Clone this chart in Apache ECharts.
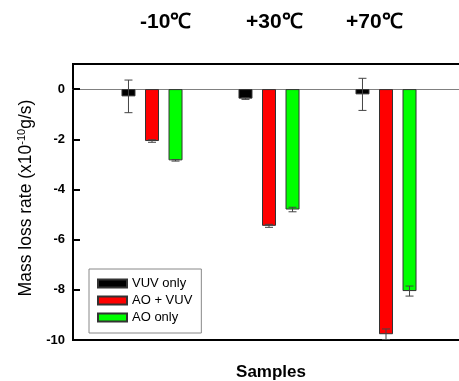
<!DOCTYPE html>
<html>
<head>
<meta charset="utf-8">
<script src="https://cdn.jsdelivr.net/npm/echarts@6/dist/echarts.min.js"></script>
<style>html,body{margin:0;padding:0;background:#fff;}#c{width:459px;height:381px;}</style>
</head>
<body>
<div id="c"></div>
<script>
const categories = ['-10℃', '+30℃', '+70℃'];
const seriesNames = ['VUV only', 'AO + VUV', 'AO only'];
const vuvOnly = [-0.29, -0.38, -0.21];
const aoVuv = [-2.07, -5.45, -9.77];
const aoOnly = [-2.84, -4.8, -8.05];
const vuvErr = [0.65, 0.03, 0.64];
const aoVuvErr = [0.05, 0.06, 0.21];
const aoOnlyErr = [0.03, 0.09, 0.2];
const yTicks = [-10, -8, -6, -4, -2, 0];

const colors = ['#000000', '#ff0000', '#00ff00'];
const BAR_W = 14, BAR_GAP = 0.68;
const values = [vuvOnly, aoVuv, aoOnly];
const errs = [vuvErr, aoVuvErr, aoOnlyErr];

const chart = echarts.init(document.getElementById('c'));
const font = 'Liberation Sans, Arial, sans-serif';

const barSeries = values.map((v, i) => ({
  name: seriesNames[i], type: 'bar', xAxisIndex: 2, yAxisIndex: 1,
  data: v, barWidth: BAR_W, barGap: (BAR_GAP * 100) + '%',
  itemStyle: { color: colors[i], borderColor: '#333', borderWidth: 1 },
  z: 3
}));

const errSeries = values.map((v, i) => ({
  type: 'custom', xAxisIndex: 2, yAxisIndex: 1, z: 5,
  data: v.map((val, k) => [k, val, errs[i][k]]),
  renderItem: function (params, api) {
    const off = (i - 1) * BAR_W * (1 + BAR_GAP);
    const val = api.value(1), e = api.value(2);
    const top = api.coord([api.value(0), val + e]);
    const bot = api.coord([api.value(0), val - e]);
    const x = top[0] + off;
    const hw = 4;
    const st = { stroke: '#444', lineWidth: 1 };
    return { type: 'group', children: [
      { type: 'line', shape: { x1: x, y1: top[1], x2: x, y2: bot[1] }, style: st },
      { type: 'line', shape: { x1: x - hw, y1: top[1], x2: x + hw, y2: top[1] }, style: st },
      { type: 'line', shape: { x1: x - hw, y1: bot[1], x2: x + hw, y2: bot[1] }, style: st }
    ]};
  }
}));

chart.setOption({
  animation: false,
  grid: [
    { left: 73, top: 64, right: -10, bottom: 41, show: true, borderColor: '#000', borderWidth: 2,
      backgroundColor: 'transparent', containLabel: false, outerBoundsMode: 'none' },
    { left: 93.5, top: 64, right: 14.5, bottom: 41, containLabel: false, outerBoundsMode: 'none' }
  ],
  xAxis: [
    { gridIndex: 0, type: 'value', min: 0, max: 1, position: 'bottom',
      axisLine: { show: false, onZero: false }, axisTick: { show: false }, axisLabel: { show: false }, splitLine: { show: false },
      name: 'Samples', nameLocation: 'middle', nameGap: 24,
      nameTextStyle: { fontFamily: font, fontSize: 17, fontWeight: 'bold', color: '#000' } },
    { gridIndex: 0, type: 'value', min: 0, max: 1, position: 'top',
      axisLine: { show: true, onZero: true, lineStyle: { color: '#808080', width: 1 } },
      axisTick: { show: false }, axisLabel: { show: false }, splitLine: { show: false } },
    { gridIndex: 1, type: 'category', data: categories, show: false }
  ],
  yAxis: [
    { gridIndex: 0, type: 'value', min: -10, max: 1, interval: 2,
      axisLine: { show: true, lineStyle: { color: '#000', width: 2 } },
      axisTick: { show: true, inside: true, length: 7, lineStyle: { color: '#000', width: 2 } },
      axisLabel: { fontFamily: font, fontSize: 13, fontWeight: 'bold', color: '#000', margin: 8,
        formatter: v => yTicks.includes(v) ? String(v) : '' },
      splitLine: { show: false },
      name: '{a|Mass loss rate (x10}{s|-10}{a|g/s)}', nameLocation: 'middle', nameGap: 36, nameRotate: 90,
      nameTextStyle: { padding: [0, 0, 0, 8], rich: {
        a: { fontFamily: font, fontSize: 17.5, color: '#000' },
        s: { fontFamily: font, fontSize: 11, color: '#000', verticalAlign: 'top', padding: [0, 0, 8, 0] }
      } } },
    { gridIndex: 1, type: 'value', min: -10, max: 1, show: false }
  ],
  legend: {
    data: seriesNames, orient: 'vertical', left: 89, top: 269,
    itemWidth: 29, itemHeight: 8, itemGap: 4, padding: [8, 9, 9, 8],
    borderColor: '#888', borderWidth: 1, backgroundColor: '#fff',
    textStyle: { fontFamily: font, fontSize: 13, color: '#000' },
    icon: 'rect'
  },
  graphic: categories.map((c, k) => ({
    type: 'text', left: [140, 246, 346][k], top: 12,
    style: { text: c, font: 'bold 21px ' + font, fill: '#000' }
  })),
  series: barSeries.concat(errSeries)
});
</script>
</body>
</html>
